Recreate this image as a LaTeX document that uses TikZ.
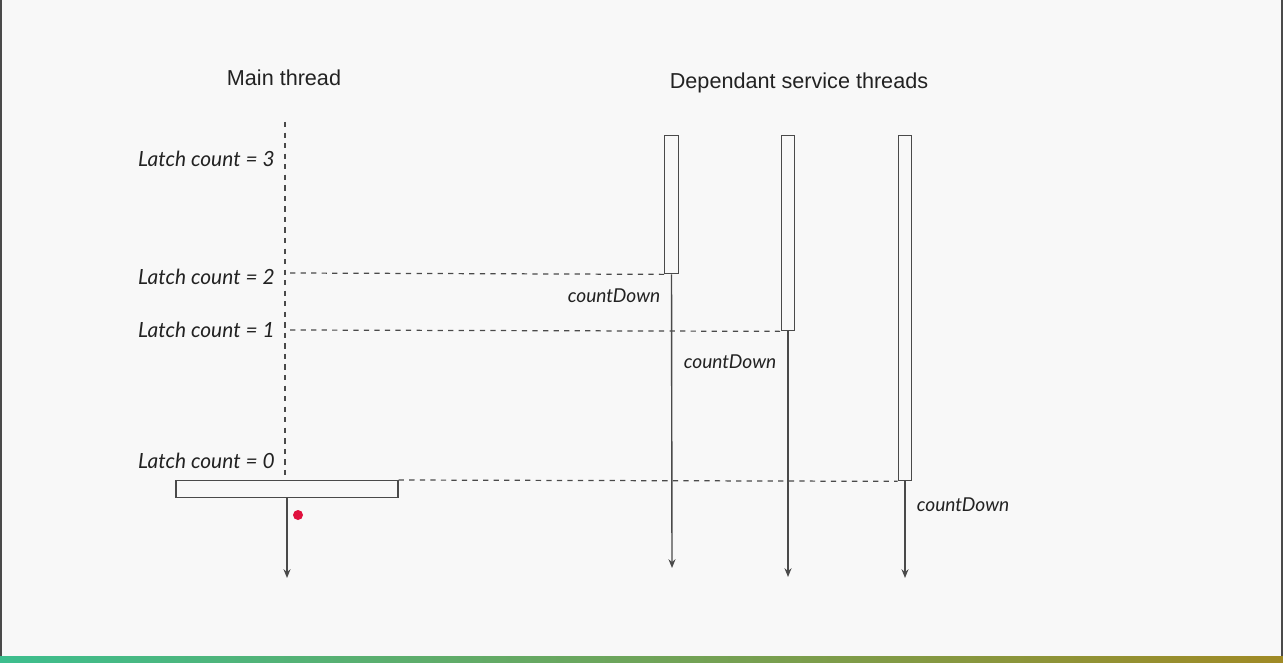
\documentclass[tikz,border=0pt]{standalone}
\usepackage{fontspec}
\setmainfont{Liberation Sans}
\newfontfamily\handfont{Lato}
\usetikzlibrary{arrows.meta}

\definecolor{bggray}{HTML}{F8F8F8}
\definecolor{linegray}{HTML}{4A4A4A}
\definecolor{inkgray}{HTML}{222222}
\definecolor{dotred}{HTML}{E0113E}
\definecolor{barleft}{HTML}{3DBE8E}
\definecolor{barright}{HTML}{A08A25}

\begin{document}
\begin{tikzpicture}[x=0.02cm,y=-0.02cm,
    thread/.style ={rectangle, draw=linegray, line width=0.8pt, fill=bggray, inner sep=0pt, minimum width=0.27cm, anchor=north},
    heading/.style ={text=inkgray, font=\fontsize{12.3}{14}\selectfont},
    latch/.style ={text=inkgray, anchor=east, inner sep=0pt, font=\handfont\itshape\fontsize{11.9}{13}\selectfont},
    count/.style ={text=inkgray, font=\handfont\itshape\fontsize{10.9}{12}\selectfont},
    wait/.style ={linegray, line width=0.7pt, dashed},
    flow/.style ={linegray, line width=0.8pt, -{Stealth[length=5pt,width=4pt]}}]
   % page
   \fill[bggray] (0,0) rectangle (1283,662);
   \useasboundingbox (0,0) rectangle (1283,662);
   \fill[linegray] (0,0) rectangle (1.5,656);
   \fill[linegray] (1280.5,0) rectangle (1283,656);
   \shade[left color=barleft, right color=barright] (0,656) rectangle (1283,662);
   % headings
   \node[heading] (main) at (284,78) {Main thread};
   \node[heading] (deps) at (799,83) {Dependant service threads};
   % service threads
   \node[thread, minimum height=2.76cm] (s1) at (671.5,135) {};
   \node[thread, minimum height=3.90cm] (s2) at (788,135) {};
   \node[thread, minimum height=6.90cm] (s3) at (905,135) {};
   % main thread
   \node[thread, minimum width=4.44cm, minimum height=0.34cm] (bar) at (287,480) {};
   \coordinate (mtop) at (285,122);
   \coordinate (m2) at (290,273);
   \coordinate (m1) at (290,330);
   \coordinate (e0) at (287,578);
   \coordinate (e1) at (672,568);
   \coordinate (e2) at (788,577);
   \coordinate (e3) at (905,578);
   \draw[wait] (mtop) to (mtop |- bar.north);
   \draw[wait] (m2) to (s1.south west);
   \draw[wait] (m1) to (s2.south west);
   \draw[wait] (bar.north east) to (s3.south west);
   \draw[flow] (bar.south) to (e0);
   \draw[flow] (s1.south) to (e1);
   \draw[flow] (s2.south) to (e2);
   \draw[flow] (s3.south) to (e3);
   % labels
   \node[latch] (c3) at (275,159) {Latch count = 3};
   \node[latch] (c2) at (275,277) {Latch count = 2};
   \node[latch] (c1) at (275,330) {Latch count = 1};
   \node[latch] (c0) at (275,461) {Latch count = 0};
   \node[count] (d1) at (614,296) {countDown};
   \node[count] (d2) at (730,362) {countDown};
   \node[count] (d3) at (963,505) {countDown};
   \fill[dotred] (298,515) circle (0.1cm);
 \end{tikzpicture}
\end{document}
